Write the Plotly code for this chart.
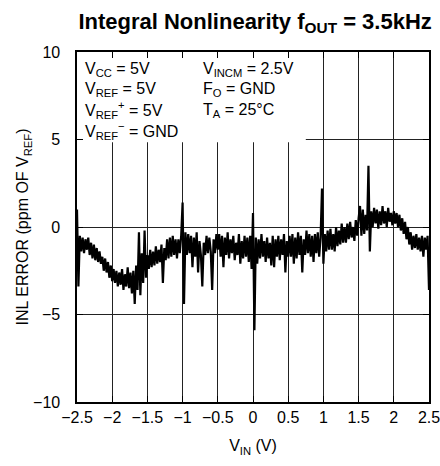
import numpy as np
import plotly.graph_objects as go

# --- data ---
V_IN_START = -2.5
V_IN_STEP = 0.02
inl_error_ppm = [
    # -2.50 .. -2.00
    1.0, -3.4, -0.5, -1.4, -0.6, -1.5, -0.7, -1.3, -0.6, -1.6,
    -0.9, -1.8, -1.0, -1.9, -1.2, -2.0, -1.4, -2.1, -1.7, -2.5,
    -1.8, -2.6, -2.0, -2.9, -2.2, -3.1,
    # -1.98 .. -1.50
    -2.4, -3.2, -2.5, -3.4, -2.6, -3.3, -2.4, -3.6, -2.7, -3.4,
    -2.3, -3.5, -2.6, -3.8, -2.5, -4.4, -2.2, -3.6, -0.3, -3.9,
    -1.5, -3.2, -0.2, -2.9, -1.6,
    # -1.48 .. -1.00
    -2.4, -1.3, -2.3, -1.4, -2.2, -1.1, -2.1, -1.3, -2.0, -1.0,
    -3.2, -1.2, -1.9, -0.7, -1.8, -0.6, -1.7, -0.5, -1.6, -0.7,
    -1.8, -0.7, -1.5, -0.5, 1.4,
    # -0.98 .. -0.50
    -4.4, -0.3, -1.6, -0.4, -1.5, -0.5, -2.3, -0.6, -1.7, -0.3,
    -2.6, -0.8, -1.6, -3.4, -0.9, -1.6, -0.5, -1.5, -0.6, -1.4,
    -3.6, -0.7, -1.5, -0.4, -1.3,
    # -0.48 .. 0.00
    -0.4, -1.7, -0.5, -2.3, -0.6, -1.6, -0.3, -1.8, -0.7, -1.5,
    -0.5, -1.9, -0.9, -1.6, -0.4, -2.1, -0.8, -1.8, -0.5, -1.7,
    -0.6, -2.0, -0.5, -2.4, 0.8,
    # 0.02 .. 0.50
    -5.9, -0.6, -2.1, -0.7, -1.8, -0.4, -1.7, -0.8, -2.0, -0.6,
    -1.8, -0.9, -2.2, -0.5, -2.3, -0.7, -1.7, -0.5, -1.9, -0.7,
    -1.6, -0.4, -2.6, -0.8, -1.7,
    # 0.52 .. 1.00
    -0.5, -1.7, -0.4, -2.1, -0.6, -1.8, -0.3, -1.6, -0.5, -2.6,
    -0.7, -1.6, -0.2, -1.5, -0.4, -1.7, -0.5, -2.0, -0.4, -1.5,
    -0.3, -1.7, -0.6, 2.2, -2.1,
    # 1.02 .. 1.50
    -0.4, -1.4, -0.2, -1.3, -0.1, -1.3, -0.4, -1.4, 0.0, -1.1,
    -0.2, -1.0, 0.2, -0.9, 0.0, -0.9, 0.2, -0.7, 0.3, -0.6,
    0.0, -0.8, 0.4, -0.5, 0.5,
    # 1.52 .. 2.00
    1.2, -0.5, 1.0, -0.4, 0.7, -0.2, 3.5, -1.4, 0.9, 0.0,
    1.1, 0.2, 1.0, -0.1, 0.9, 0.1, 1.2, 0.2, 0.9, 0.0,
    1.1, 0.3, 0.8, 0.1, 0.9,
    # 2.02 .. 2.50
    0.2, 0.8, 0.0, 0.7, -0.2, 0.5, -0.4, 0.3, -0.7, 0.0,
    -1.0, -0.3, -1.3, -0.5, -1.2, -0.4, -1.3, -0.6, -1.4, -0.5,
    -1.7, -0.6, -1.3, -0.5, -3.6,
]
v_in = np.round(V_IN_START + V_IN_STEP * np.arange(len(inl_error_ppm)), 2)

x_ticks = [-2.5, -2, -1.5, -1, -0.5, 0, 0.5, 1, 1.5, 2, 2.5]
x_tick_text = ["\u22122.5", "\u22122", "\u22121.5", "\u22121", "\u22120.5", "0",
               "0.5", "1", "1.5", "2", "2.5"]
y_ticks = [-10, -5, 0, 5, 10]
y_tick_text = ["\u221210", "\u22125", "0", "5", "10"]

conditions_left = ["V<sub>CC</sub> = 5V", "V<sub>REF</sub> = 5V",
                   "V<sub>REF</sub><sup>+</sup> = 5V", "V<sub>REF</sub><sup>\u2212</sup> = GND"]
conditions_right = ["V<sub>INCM</sub> = 2.5V", "F<sub>O</sub> = GND", "T<sub>A</sub> = 25\u00b0C"]

TXT = "Liberation Sans, Arial, sans-serif"

fig = go.Figure()
fig.add_trace(go.Scatter(x=v_in, y=inl_error_ppm, mode="lines",
                         line=dict(color="black", width=2.2), hoverinfo="skip"))

# white box behind the conditions text (covers gridlines, under the trace)
fig.add_shape(type="rect", xref="x", yref="y", x0=-2.5, x1=0.75, y0=4.85, y1=10,
              fillcolor="white", line=dict(width=0), layer="between")

line_y = [0.951, 0.893, 0.833, 0.775]
for t, yy in zip(conditions_left, line_y):
    fig.add_annotation(text=t, xref="paper", yref="paper", x=0.018, y=yy,
                       xanchor="left", yanchor="middle", showarrow=False,
                       font=dict(family=TXT, size=16, color="black"))
for t, yy in zip(conditions_right, line_y):
    fig.add_annotation(text=t, xref="paper", yref="paper", x=0.352, y=yy,
                       xanchor="left", yanchor="middle", showarrow=False,
                       font=dict(family=TXT, size=16, color="black"))

fig.update_layout(
    width=440, height=466,
    margin=dict(l=77, r=11, t=52, b=64, autoexpand=False),
    paper_bgcolor="white", plot_bgcolor="white",
    showlegend=False,
    title=dict(text="<b>Integral Nonlinearity f<sub>OUT</sub> = 3.5kHz</b>",
               x=0.506, xref="paper", xanchor="center",
               y=0.955, yref="container", yanchor="middle",
               font=dict(family=TXT, size=22, color="black")),
)
fig.update_xaxes(range=[-2.5, 2.5], tickvals=x_ticks, ticktext=x_tick_text,
                 showgrid=True, gridcolor="#222", gridwidth=1,
                 showline=True, linecolor="black", linewidth=1.6, mirror="ticks",
                 ticks="inside", ticklen=6, tickcolor="black", tickwidth=1,
                 zeroline=False, automargin=False, ticklabeloverflow="allow",
                 tickfont=dict(family=TXT, size=16, color="black"),
                 title=dict(text="V<sub>IN</sub> (V)", standoff=15,
                            font=dict(family=TXT, size=16, color="black")))
fig.update_yaxes(range=[-10, 10], tickvals=y_ticks, ticktext=y_tick_text,
                 showgrid=True, gridcolor="#222", gridwidth=1,
                 showline=True, linecolor="black", linewidth=1.6, mirror="ticks",
                 ticks="inside", ticklen=6, tickcolor="black", tickwidth=1,
                 zeroline=False, automargin=False, ticklabelstandoff=12,
                 ticklabeloverflow="allow",
                 tickfont=dict(family=TXT, size=16, color="black"),
                 title=dict(text="INL ERROR (ppm OF V<sub>REF</sub>)", standoff=0,
                            font=dict(family=TXT, size=16, color="black")))

fig.write_html("out.html", config={"displayModeBar": False, "staticPlot": True},
               post_script="document.body.style.margin='0';document.body.style.overflow='hidden';")
